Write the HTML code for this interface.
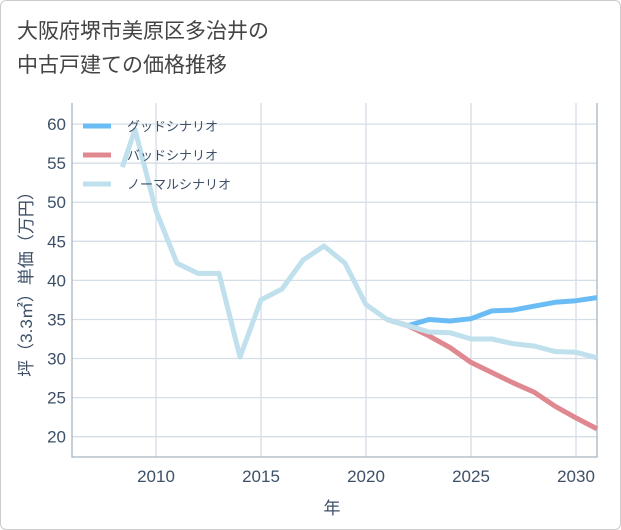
<!DOCTYPE html>
<html><head><meta charset="utf-8"><style>
body{margin:0;background:#fff;}
#wrap{position:relative;width:619px;height:528px;border:1px solid #ccc;border-radius:6px;overflow:hidden;font-family:"Liberation Sans","Noto Sans CJK JP",sans-serif;}
#title{position:absolute;left:16px;top:14px;font-size:21px;line-height:34px;color:#444;}
svg text{font-family:"Liberation Sans","Noto Sans CJK JP",sans-serif;}
</style></head><body>
<div id="wrap">
<div id="title">大阪府堺市美原区多治井の<br>中古戸建ての価格推移</div>
<svg id="chart" width="621" height="530" style="position:absolute;left:-1px;top:-1px"></svg>
</div>
<script>
const yTicks=[20,25,30,35,40,45,50,55,60];
const xTicks=[2010,2015,2020,2025,2030];
const normalYears=[2008.4,2009,2010,2011,2012,2013,2014,2015,2016,2017,2018,2019,2020,2021,2022,2023,2024,2025,2026,2027,2028,2029,2030,2031];
const normalValues=[54.5,59.3,48.9,42.2,40.9,40.9,30.2,37.5,38.9,42.6,44.4,42.2,36.9,35.0,34.2,33.4,33.3,32.5,32.5,31.9,31.6,30.9,30.8,30.1];
const futureYears=[2021,2022,2023,2024,2025,2026,2027,2028,2029,2030,2031];
const goodValues=[35.0,34.2,35.0,34.8,35.1,36.1,36.2,36.7,37.2,37.4,37.8];
const badValues=[35.0,34.2,32.9,31.4,29.5,28.2,26.9,25.7,23.9,22.4,21.0];
const seriesNames=["グッドシナリオ","バッドシナリオ","ノーマルシナリオ"];
const L=72,R=597,T=103,B=457,X0=2006,X1=2031,Y0=17.4,Y1=62.7;
const xs=v=>L+(v-X0)/(X1-X0)*(R-L);
const ys=v=>B-(v-Y0)/(Y1-Y0)*(B-T);
const svg=document.getElementById('chart');
const NS='http://www.w3.org/2000/svg';
function mk(tag,attrs,parent){const e=document.createElementNS(NS,tag);for(const k in attrs)e.setAttribute(k,attrs[k]);(parent||svg).appendChild(e);return e;}
yTicks.forEach(v=>{
 const l=mk('line',{x1:L,x2:R,y1:ys(v),y2:ys(v),stroke:'#d5dde6','stroke-width':1.3});
 
 
 const t=mk('text',{x:66,y:ys(v)+6,'text-anchor':'end','font-size':17,fill:'#3d5068'});t.textContent=v;
 
 
});
xTicks.forEach(v=>{
 const l=mk('line',{x1:xs(v),x2:xs(v),y1:T,y2:B,stroke:'#d5dde6','stroke-width':1.3});
 
 
 const t=mk('text',{x:xs(v),y:482,'text-anchor':'middle','font-size':17,fill:'#3d5068'});t.textContent=v;
 
 
});
const ax=mk('path',{d:`M${L},${T}V${B}H${R}V${T}`,fill:'none',stroke:'#a8b4c0','stroke-width':1.3});


const xt=mk('text',{x:332,y:514,'text-anchor':'middle','font-size':17,fill:'#3d5068'});xt.textContent='年';


const yt=mk('text',{x:0,y:0,'text-anchor':'middle','font-size':17,fill:'#3d5068',transform:'translate(32,280) rotate(-90)'});yt.textContent='坪（3.3㎡）単価（万円）';


function line(years,vals,color,name){
 const d=years.map((y,i)=>(i?'L':'M')+xs(y).toFixed(1)+','+ys(vals[i]).toFixed(1)).join('');
 const p=mk('path',{d:d,fill:'none',stroke:color,'stroke-width':5,'stroke-linejoin':'round'});
 
 
}
line(futureYears,goodValues,'#6bbcf4','good-scenario-line');
line(futureYears,badValues,'#e08890','bad-scenario-line');
line(normalYears,normalValues,'#bfe0ec','normal-scenario-line');
const colors=['#6bbcf4','#e08890','#bfe0ec'];
seriesNames.forEach((n,i)=>{
 const g=mk('g',{});
 
 
 const y=126+i*29;
 mk('line',{x1:83,x2:111,y1:y,y2:y,stroke:colors[i],'stroke-width':5},g);
 const t=mk('text',{x:127,y:y+5,'font-size':13,fill:'#3d5068'},g);t.textContent=n;
});
</script>
</body></html>
